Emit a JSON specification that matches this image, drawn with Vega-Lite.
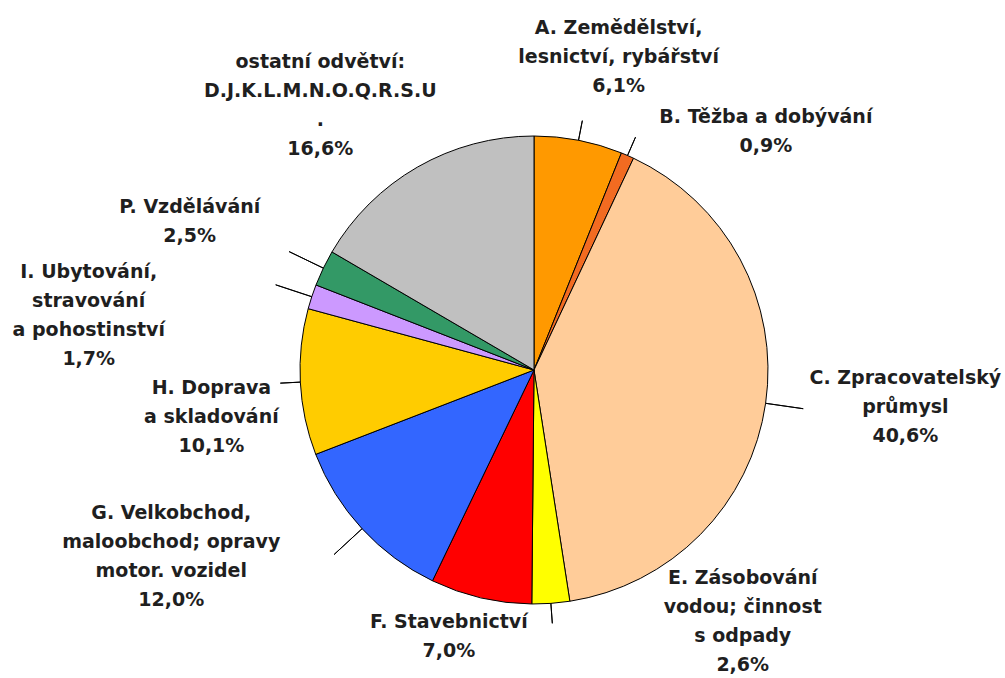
{
  "$schema": "https://vega.github.io/schema/vega-lite/v6.json",
  "width": 942,
  "height": 616,
  "autosize": {"type": "none"},
  "padding": {"left": 63, "top": 62, "right": 0, "bottom": 0},
  "background": "#ffffff",
  "view": {"stroke": null},
  "config": {"text": {"font": "DejaVu Sans", "fontWeight": "bold", "fontSize": 19, "lineBreak": "\n", "lineHeight": 29, "color": "#1f1f1f"}},
  "data": {
    "values": [
      {"i": 1, "key": "A", "value": 6.1, "label": "A. Zemědělství,\nlesnictví, rybářství\n6,1%"},
      {"i": 2, "key": "B", "value": 0.9, "label": "B. Těžba a dobývání\n0,9%"},
      {"i": 3, "key": "C", "value": 40.6, "label": "C. Zpracovatelský\nprůmysl\n40,6%"},
      {"i": 4, "key": "E", "value": 2.6, "label": "E. Zásobování\nvodou; činnost\ns odpady\n2,6%"},
      {"i": 5, "key": "F", "value": 7.0, "label": "F. Stavebnictví\n7,0%"},
      {"i": 6, "key": "G", "value": 12.0, "label": "G. Velkobchod,\nmaloobchod; opravy\nmotor. vozidel\n12,0%"},
      {"i": 7, "key": "H", "value": 10.1, "label": "H. Doprava\na skladování\n10,1%"},
      {"i": 8, "key": "I", "value": 1.7, "label": "I. Ubytování,\nstravování\na pohostinství\n1,7%"},
      {"i": 9, "key": "P", "value": 2.5, "label": "P. Vzdělávání\n2,5%"},
      {"i": 10, "key": "O", "value": 16.6, "label": "ostatní odvětví:\nD.J.K.L.M.N.O.Q.R.S.U\n.\n16,6%"}
    ]
  },
  "encoding": {
    "theta": {"field": "value", "type": "quantitative", "stack": true},
    "order": {"field": "i", "type": "quantitative"}
  },
  "layer": [
    {
      "mark": {"type": "arc", "outerRadius": 234, "stroke": "#000000", "strokeWidth": 1},
      "encoding": {
        "color": {
          "field": "key", "type": "nominal", "legend": null,
          "scale": {
            "domain": ["A", "B", "C", "E", "F", "G", "H", "I", "P", "O"],
            "range": ["#FF9900", "#F26B21", "#FFCC99", "#FFFF00", "#FF0000", "#3366FF", "#FFCC00", "#CC99FF", "#339966", "#C0C0C0"]
          }
        }
      }
    },
    {
      "mark": {"type": "arc", "innerRadius": 234, "outerRadius": 254, "padAngle": 3, "fillOpacity": 0, "stroke": "#000000", "strokeWidth": 1},
      "encoding": {
        "strokeOpacity": {"condition": {"test": "indexof(['A','B','E','H'], datum.key) >= 0", "value": 1}, "value": 0}
      }
    },
    {
      "mark": {"type": "arc", "innerRadius": 234, "outerRadius": 272, "padAngle": 3, "fillOpacity": 0, "stroke": "#000000", "strokeWidth": 1},
      "encoding": {
        "strokeOpacity": {"condition": {"test": "indexof(['C','G','I','P'], datum.key) >= 0", "value": 1}, "value": 0}
      }
    },
    {"mark": {"type": "text", "radius": 329, "dx": 22, "dy": -19},
     "encoding": {"text": {"condition": {"test": "datum.key === 'A'", "field": "label"}, "value": ""}}},
    {"mark": {"type": "text", "radius": 330, "dx": 100, "dy": 50},
     "encoding": {"text": {"condition": {"test": "datum.key === 'B'", "field": "label"}, "value": ""}}},
    {"mark": {"type": "text", "radius": 356, "dx": 19, "dy": -43},
     "encoding": {"text": {"condition": {"test": "datum.key === 'C'", "field": "label"}, "value": ""}}},
    {"mark": {"type": "text", "radius": 329, "dx": 185, "dy": -120},
     "encoding": {"text": {"condition": {"test": "datum.key === 'E'", "field": "label"}, "value": ""}}},
    {"mark": {"type": "text", "radius": 278, "dx": -22, "dy": -19},
     "encoding": {"text": {"condition": {"test": "datum.key === 'F'", "field": "label"}, "value": ""}}},
    {"mark": {"type": "text", "radius": 348, "dx": -107, "dy": -93},
     "encoding": {"text": {"condition": {"test": "datum.key === 'G'", "field": "label"}, "value": ""}}},
    {"mark": {"type": "text", "radius": 312, "dx": -11, "dy": 2},
     "encoding": {"text": {"condition": {"test": "datum.key === 'H'", "field": "label"}, "value": ""}}},
    {"mark": {"type": "text", "radius": 452, "dx": -16, "dy": 44},
     "encoding": {"text": {"condition": {"test": "datum.key === 'I'", "field": "label"}, "value": ""}}},
    {"mark": {"type": "text", "radius": 398, "dx": 14, "dy": 10},
     "encoding": {"text": {"condition": {"test": "datum.key === 'P'", "field": "label"}, "value": ""}}},
    {"mark": {"type": "text", "radius": 345, "dx": -42, "dy": -9},
     "encoding": {"text": {"condition": {"test": "datum.key === 'O'", "field": "label"}, "value": ""}}}
  ]
}
